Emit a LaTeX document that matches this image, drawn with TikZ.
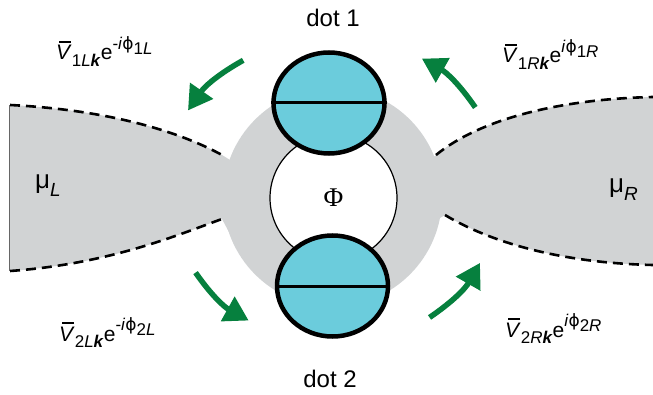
\documentclass[tikz,border=0pt]{standalone}
\usepackage{fontspec}
\setmainfont{Liberation Sans}
\newfontfamily\phifont{DejaVu Sans}
\newfontfamily\fluxfont{Liberation Serif}
\usepackage{tikz}
\usetikzlibrary{arrows.meta, calc, shapes.geometric}

\definecolor{leadgray}{RGB}{209,211,212}
\definecolor{dotcyan}{RGB}{107,204,220}
\definecolor{hopgreen}{RGB}{6,128,62}

% coupling V-bar with phase factor: #1 dot, #2 lead, #3 sign
\newcommand{\hopsize}{\fontsize{17}{17}\selectfont}
\newcommand{\barV}{\makebox[0pt][l]{\hspace{0.14em}\rule[0.8em]{0.56em}{0.09em}}\textit{V}}
\newcommand{\hop}[3]{\barV\raisebox{-0.3em}{\hopsize #1\textit{#2}\textbf{\textit{k}}}%
  e\raisebox{0.52em}{\hopsize #3\textit{i}{\phifont ϕ}\raisebox{-0.32em}{#1\textit{#2}}}}

\begin{document}
\begin{tikzpicture}[x=1pt, y=1pt]
\tikzstyle{dotshape}=[ellipse, draw=black, line width=4.5pt, fill=dotcyan, minimum width=111pt, minimum height=101pt, inner sep=0pt]
\tikzstyle{midline}=[line width=3pt]
\tikzstyle{leadedge}=[line width=2.6pt, dash pattern=on 10pt off 6pt]
\tikzstyle{hop}=[hopgreen, line width=5.5pt, -{Triangle[length=24pt, width=27pt]}]
\tikzstyle{hoplabel}=[font=\fontsize{21}{24}\selectfont, inner sep=0pt]
\tikzstyle{dotlabel}=[font=\fontsize{24}{28}\selectfont, inner sep=0pt, anchor=base]
\tikzstyle{mulabel}=[font=\fontsize{26}{28}\selectfont, inner sep=0pt, anchor=base west]

\useasboundingbox (0,0) rectangle (653,394);

% ring between the leads
\node (ring) [circle, fill=leadgray, minimum size=219pt, inner sep=0pt] at (332.5,197) {};

% leads
\fill[leadgray] (10,289) .. controls (110,284) and (180,262) .. (222,239) -- (230,234) -- (250,234)
  -- (250,160) -- (230,160) -- (222,175) .. controls (180,160) and (110,130) .. (10,123) -- cycle;
\fill[leadgray] (653,297) .. controls (560,295) and (480,275) .. (436,239) -- (425,230)
  -- (425,170) -- (440,176) -- (445,179) .. controls (490,152) and (560,131) .. (653,129) -- cycle;
\draw[leadedge] (10,289) .. controls (110,284) and (180,262) .. (222,239);
\draw[leadedge] (10,123) .. controls (110,130) and (180,160) .. (222,175);
\draw[leadedge] (436,239) .. controls (480,275) and (560,295) .. (653,297);
\draw[leadedge] (445,179) .. controls (490,152) and (560,131) .. (653,129);
\draw[black!60, line width=0.6pt] (9,123) -- (9,289);

\node (muL) [mulabel] at (35,205) {μ\raisebox{-0.3em}{\fontsize{19}{19}\selectfont\textit{L}}};
\node (muR) [mulabel] at (609,201) {μ\raisebox{-0.3em}{\fontsize{19}{19}\selectfont\textit{R}}};

% flux loop
\node (loop) [circle, draw, line width=1.2pt, fill=white, minimum size=127pt, inner sep=0pt,
  font=\fontsize{27}{30}\fluxfont] at (333.5,196) {Φ};

% dots
\node (dot1) [dotshape] at (329,291) {};
\node (dot2) [dotshape] at (332.5,108) {};
\draw[midline] (dot1.west) -- (dot1.east);
\draw[midline] (dot2.west) -- (dot2.east);

\node (lab1) [dotlabel] at (333,367) {dot 1};
\node (lab2) [dotlabel] at (330,7) {dot 2};

% tunnelling arrows
\coordinate (c) at (332,197);
\coordinate (t1L) at ($(c)+(123:163)$);
\coordinate (h1L) at ($(c)+(149:168)$);
\coordinate (t1R) at ($(c)+(32:169)$);
\coordinate (h1R) at ($(c)+(57:165)$);
\coordinate (t2L) at ($(c)+(209:156)$);
\coordinate (h2L) at ($(c)+(236:149)$);
\coordinate (t2R) at ($(c)+(-51:155)$);
\coordinate (h2R) at ($(c)+(-24:162)$);
\draw[hop] (t1L) to[bend right=13] (h1L);
\draw[hop] (t1R) to[bend right=13] (h1R);
\draw[hop] (t2L) to[bend right=13] (h2L);
\draw[hop] (t2R) to[bend right=13] (h2R);

\node (v1L) [hoplabel, anchor=base west] at (56,334) {\hop{1}{L}{-}};
\node (v1R) [hoplabel, anchor=base west] at (502,331) {\hop{1}{R}{}};
\node (v2L) [hoplabel, anchor=base west] at (59,53) {\hop{2}{L}{-}};
\node (v2R) [hoplabel, anchor=base west] at (505,57) {\hop{2}{R}{}};

\end{tikzpicture}
\end{document}
